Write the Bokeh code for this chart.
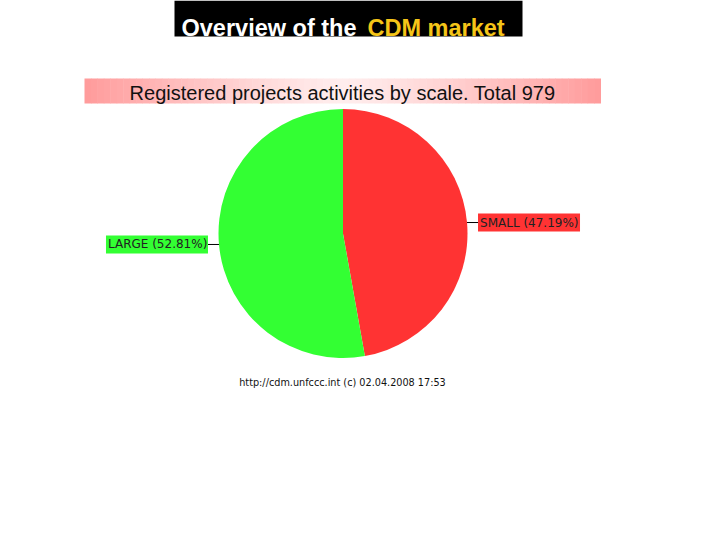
import math
from bokeh.plotting import figure
from bokeh.models import Range1d, ColumnDataSource
from bokeh.core.properties import value
from bokeh.embed import file_html
from bokeh.resources import INLINE

# ---- data ----
categories = ["SMALL", "LARGE"]
shares = [47.19, 52.81]
total = 979
chart_title = "Registered projects activities by scale. Total 979"
footer = "http://cdm.unfccc.int (c) 02.04.2008 17:53"

W, H = 704, 524
p = figure(width=W, height=H, output_backend="svg", toolbar_location=None,
           x_range=Range1d(0, W), y_range=Range1d(0, H), min_border=0)
p.axis.visible = False
p.grid.visible = False
p.outline_line_color = None
p.background_fill_color = "white"

OFF = 0


def Y(page_y):
    return H + OFF - page_y


def X(page_x):
    return page_x - OFF


# ---- header box ----
p.quad(left=X(174), right=X(522), top=Y(0), bottom=Y(36), fill_color="black", line_color=None)
p.text(x=[X(181)], y=[Y(27)], text=["Overview of the"], text_color="white",
       text_font=value("Liberation Sans"), text_font_size="23.5px", text_font_style="bold",
       text_baseline="alphabetic")
p.text(x=[X(367)], y=[Y(27)], text=["CDM market"], text_color="#f5c518",
       text_font=value("Liberation Sans"), text_font_size="23.5px", text_font_style="bold",
       text_baseline="alphabetic")

# ---- gradient banner ----
bl, br, bt, bb = 84, 600, 78, 103
n = 80
lefts, rights, cols = [], [], []
for i in range(n):
    t = (i + 0.5) / n
    d = abs(t - 0.5) * 2  # 0 at centre, 1 at edge
    g = int(238 - (238 - 155) * d ** 1.2)
    lefts.append(X(bl + (br - bl) * i / n))
    rights.append(X(bl + (br - bl) * (i + 1) / n) + 0.5)
    cols.append("#%02x%02x%02x" % (255, g, g))
p.quad(left=lefts, right=rights, top=Y(bt), bottom=Y(bb), fill_color=cols, line_color=None)
p.text(x=[X(342)], y=[Y(92)], text=[chart_title], text_color="#111111",
       text_font=value("Liberation Sans"), text_font_size="20px", text_align="center",
       text_baseline="middle")

# ---- pie ----
cx, cy, rad = X(342.5), Y(233), 124.5
fill_cols = ["#ff3333", "#33ff33"]
starts, ends, mids = [], [], []
cum = 0.0
tot = sum(shares)
for s in shares:
    a0 = math.pi / 2 - 2 * math.pi * cum / tot
    a1 = math.pi / 2 - 2 * math.pi * (cum + s) / tot
    starts.append(a1)
    ends.append(a0)
    mids.append((a0 + a1) / 2)
    cum += s
src = ColumnDataSource(dict(x=[cx] * 2, y=[cy] * 2, start=starts, end=ends, color=fill_cols))
p.wedge(x="x", y="y", radius=rad, start_angle="start", end_angle="end",
        fill_color="color", line_color=None, source=src)

# ---- labels ----
for cat, s, m, col in zip(categories, shares, mids, fill_cols):
    ex = cx + rad * math.cos(m)
    ey = cy + rad * math.sin(m)
    label = "%s (%.2f%%)" % (cat, s)
    bw, bh = 102, 18
    if math.cos(m) >= 0:
        lx = ex + 11
        p.line([ex, lx], [ey, ey], line_color="black", line_width=1)
        p.quad(left=lx, right=lx + bw, top=ey + bh / 2, bottom=ey - bh / 2, fill_color=col, line_color=None)
        p.text(x=[lx + 2], y=[ey], text=[label], text_color="#222222", text_font=value("DejaVu Sans"),
               text_font_size="12px", text_baseline="middle")
    else:
        lx = ex - 11
        p.line([ex, lx], [ey, ey], line_color="black", line_width=1)
        p.quad(left=lx - bw, right=lx, top=ey + bh / 2, bottom=ey - bh / 2, fill_color=col, line_color=None)
        p.text(x=[lx - bw + 2], y=[ey], text=[label], text_color="#222222", text_font=value("DejaVu Sans"),
               text_font_size="12px", text_baseline="middle")

# ---- footer ----
p.text(x=[X(342)], y=[Y(382)], text=[footer], text_color="#111111",
       text_font=value("DejaVu Sans"), text_font_size="9.7px", text_align="center",
       text_baseline="middle")

open("out.html", "w").write(file_html(p, INLINE))
